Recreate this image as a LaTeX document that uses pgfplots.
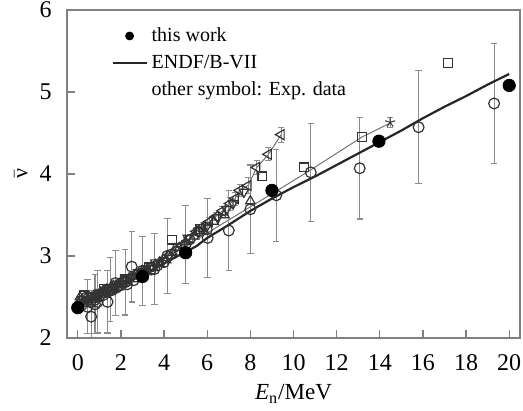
\documentclass[border=0pt]{standalone}
\usepackage{pgfplots}
\pgfplotsset{compat=1.18}
\usepackage{fontspec}
\setmainfont{Liberation Serif}
\usetikzlibrary{plotmarks}
\definecolor{frame}{gray}{0.5}
\definecolor{errc}{gray}{0.55}
\definecolor{symc}{gray}{0.2}
\begin{document}
\begin{tikzpicture}
\begin{axis}[
  scale only axis,
  width=226.5pt, height=164pt,
  xmin=-0.5, xmax=20.5, ymin=2, ymax=6,
  xtick={0,2,...,20}, ytick={2,3,4,5,6},
  xtick pos=lower, ytick pos=left,
  tick align=inside, major tick length=4pt,
  axis line style={draw=frame, line width=0.9pt},
  tick style={draw=frame, line width=0.7pt},
  /pgf/number format/assume math mode=true,
  ticklabel style={font=\fontsize{12}{14}\selectfont},
  xticklabel style={anchor=north, inner sep=0pt, yshift=-8pt},
  yticklabel style={anchor=east, inner sep=0pt, xshift=-7.5pt},
  xlabel={\textit{E}\textsubscript{n}/MeV},
  xlabel style={at={([yshift=-31pt]axis description cs:0.5,0)}, anchor=base, font=\fontsize{11.5}{13}\selectfont},
  ylabel={$\bar{\mbox{ν}}$},
  ylabel style={at={([xshift=-23pt]axis description cs:0,0.5)}, anchor=center, font=\fontsize{11}{13}\selectfont},
  legend style={draw=none, fill=none, at={(axis description cs:0.093,0.966)}, anchor=north west,
    font=\fontsize{10}{12}\selectfont, row sep=1.2pt, inner sep=1pt},
  legend cell align=left,
  clip=true,
]
\addlegendimage{only marks, mark=*, mark size=2pt, black}
\addlegendentry{this work}
\addlegendimage{black!85, line width=1pt}
\addlegendentry{ENDF/B-VII}
\addlegendimage{empty legend}
\addlegendentry{other symbol: Exp. data}

% gray connecting lines of experimental sets
\addplot[forget plot, black!55, line width=0.5pt] coordinates {
(3.0,2.82) (4.0,2.97) (5.0,3.12) (6.0,3.28) (7.0,3.44) (8.0,3.60) (9.2,3.79) (10.8,4.05) (13.17,4.45) (14.48,4.62)};
\addplot[forget plot, black!55, line width=0.5pt] coordinates {
(4.8,3.12) (5.2,3.22) (5.5,3.30) (5.8,3.36) (6.1,3.42) (6.4,3.48) (6.7,3.55) (7.06,3.64) (7.3,3.70) (7.5,3.80) (7.9,3.86) (8.3,4.08) (8.84,4.24) (9.43,4.48)};

% dense cluster: diamonds
\addplot[forget plot, only marks, mark=diamond, mark size=2.5pt, mark options={draw=symc, fill=white, line width=0.6pt}] coordinates {
(0.05,2.43) (0.15,2.46) (0.25,2.45) (0.35,2.48) (0.45,2.47) (0.55,2.50) (0.65,2.49) (0.75,2.52) (0.85,2.53) (0.95,2.52)
(1.05,2.56) (1.15,2.57) (1.25,2.58) (1.35,2.60) (1.45,2.59) (1.55,2.62) (1.65,2.64) (1.75,2.63) (1.85,2.66) (1.95,2.67)
(2.1,2.70) (2.25,2.71) (2.4,2.74) (2.55,2.75) (2.7,2.78) (2.85,2.79) (3.0,2.82) (3.2,2.84) (3.4,2.87) (3.6,2.90)
(3.8,2.93) (4.0,2.96) (4.2,3.00)};
% triangles up
\addplot[forget plot, only marks, mark=triangle, mark size=2.7pt, mark options={draw=symc, fill=white, line width=0.6pt}] coordinates {
(0.1,2.50) (0.3,2.42) (0.5,2.44) (0.7,2.47) (0.9,2.49) (1.1,2.53) (1.3,2.55) (1.5,2.57) (1.7,2.60) (1.9,2.62)
(2.1,2.66) (2.3,2.68) (2.6,2.72) (2.9,2.77) (3.2,2.81) (3.5,2.86) (3.8,2.90) (4.1,2.95) (4.4,3.04) (4.7,3.10)
(5.0,3.17) (5.4,3.24) (5.8,3.33) (6.3,3.42) (6.8,3.50) (8.0,3.67)};
% triangles down
\addplot[forget plot, only marks, mark=triangle, mark size=2.7pt, mark options={rotate=180, draw=symc, fill=white, line width=0.6pt}] coordinates {
(0.2,2.47) (0.6,2.52) (1.0,2.55) (1.4,2.61) (1.8,2.66) (2.2,2.73) (2.8,2.80) (3.6,2.92)
(4.6,3.12) (5.1,3.22) (5.6,3.30) (6.0,3.37) (6.5,3.47) (6.9,3.57) (7.2,3.64) (7.7,3.78)};
% triangles left with error bars
\addplot[forget plot, only marks, mark=triangle, mark size=2.9pt, mark options={rotate=90, draw=symc, fill=white, line width=0.6pt},
  error bars/.cd, y dir=both, y explicit,
  error bar style={errc, line width=0.5pt}, error mark options={rotate=90, mark size=1.5pt, errc}]
  table[x=x, y=y, y error=e] {
x y e
4.8 3.12 0.04
5.2 3.22 0.04
5.5 3.30 0.05
5.8 3.36 0.05
6.1 3.42 0.05
6.4 3.48 0.05
6.7 3.55 0.06
7.06 3.64 0.08
7.3 3.70 0.08
7.5 3.80 0.07
7.9 3.86 0.10
8.3 4.08 0.08
8.84 4.24 0.08
9.43 4.48 0.09
};
% squares
\addplot[forget plot, only marks, mark=square, mark size=2.2pt, mark options={draw=symc, fill=white, line width=0.6pt}] coordinates {
(0.3,2.52) (1.2,2.60) (2.2,2.72) (3.3,2.86) (4.38,3.20) (5.68,3.33) (8.56,3.97) (10.5,4.08) (13.17,4.45) (17.17,5.35)};
% star
\addplot[forget plot, only marks, mark=star, mark size=2.6pt, mark options={draw=symc, line width=0.5pt},
  error bars/.cd, y dir=both, y explicit,
  error bar style={errc, line width=0.5pt}, error mark options={rotate=90, mark size=1.5pt, errc}]
  coordinates {(14.48,4.63) +- (0,0.06)};
% small open circles in cluster
\addplot[forget plot, only marks, mark=o, mark size=2.5pt, mark options={draw=symc, fill=white, line width=0.6pt}] coordinates {
(0.2,2.40) (0.4,2.50) (0.6,2.43) (0.8,2.46) (1.0,2.50) (1.2,2.52) (1.4,2.56) (1.6,2.58) (1.8,2.61) (2.0,2.64)
(2.3,2.65) (2.6,2.70) (3.1,2.80) (3.4,2.83) (3.7,2.88) (4.0,2.92) (4.3,3.02) (4.6,3.06) (5.2,3.20) (5.6,3.30) (6.0,3.32)};
% open circles with large error bars
\addplot[forget plot, only marks, mark=o, mark size=2.7pt, mark options={draw=symc, fill=white, line width=0.6pt},
  error bars/.cd, y dir=both, y explicit,
  error bar style={errc, line width=0.6pt}, error mark options={rotate=90, mark size=1.6pt, errc, line width=0.6pt}]
  table[x=x, y=y, y error=e] {
x y e
0.45 2.38 0.33
0.62 2.26 0.32
0.80 2.41 0.36
0.92 2.44 0.38
1.38 2.44 0.38
1.50 2.59 0.39
1.75 2.67 0.40
2.20 2.68 0.40
2.50 2.87 0.43
3.00 2.82 0.42
3.55 2.84 0.43
4.15 3.00 0.46
5.00 3.14 0.48
6.02 3.22 0.48
7.00 3.31 0.49
8.00 3.57 0.54
9.20 3.74 0.56
10.80 4.02 0.60
13.07 4.07 0.62
15.80 4.57 0.69
19.30 4.86 0.73
};
% ENDF/B-VII
\addplot[forget plot, black!85, line width=1.1pt] coordinates {
(0,2.37) (1,2.50) (2,2.64) (3,2.77) (4,2.91) (5,3.05) (5.5,3.12) (6,3.22) (7,3.38) (8,3.55) (9,3.70)
(10,3.84) (11,3.97) (12,4.11) (13,4.25) (14,4.39) (15,4.53) (16,4.68) (17,4.82) (18,4.95) (19,5.09) (20,5.22)};
% this work
\addplot[forget plot, only marks, mark=*, mark size=3.1pt, black] coordinates {
(0,2.37) (3,2.75) (5,3.04) (9,3.80) (13.96,4.40) (20,5.08)};
\coordinate (ll) at (axis description cs:0,0);
\coordinate (ur) at (axis description cs:1,1);
\end{axis}
\path ([shift={(-33.5pt,-34.5pt)}]ll) rectangle ([shift={(1.5pt,5pt)}]ur);
\end{tikzpicture}
\end{document}
